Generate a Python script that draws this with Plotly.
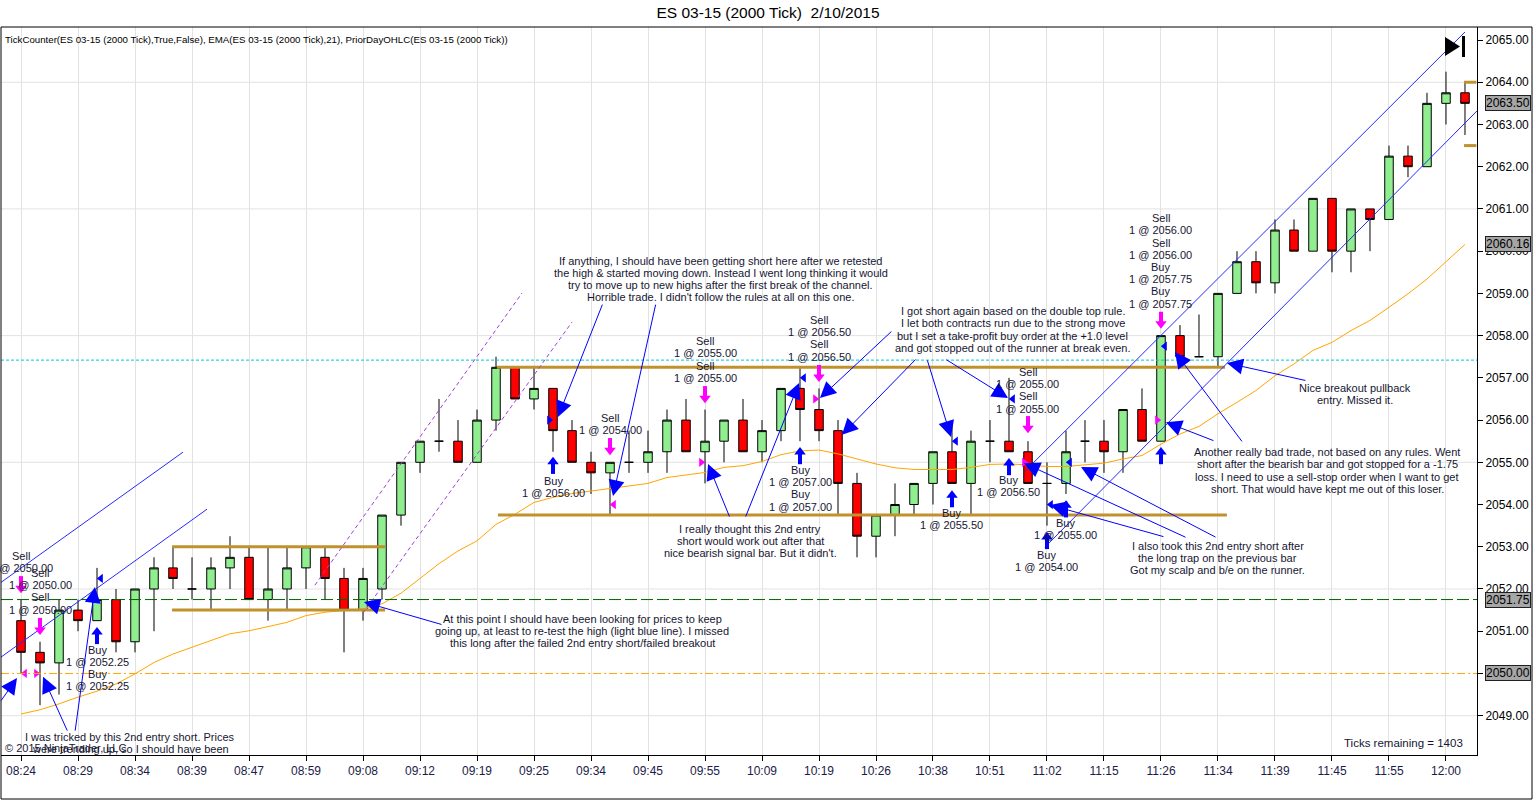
import plotly.graph_objects as go

FONT = "Liberation Sans"
TXT = "#161632"

# ---------------- data ----------------
bar_index = list(range(77))
time_label_bars = [0, 3, 6, 9, 12, 15, 18, 21, 24, 27, 30, 33, 36, 39, 42, 45, 48, 51, 54, 57, 60, 63, 66, 69, 72, 75]
time_labels = ["08:24", "08:29", "08:34", "08:39", "08:47", "08:59", "09:08", "09:12", "09:19", "09:25",
               "09:34", "09:45", "09:55", "10:09", "10:19", "10:26", "10:38", "10:51", "11:02", "11:15",
               "11:26", "11:34", "11:39", "11:45", "11:55", "12:00"]

opens = [2051.25, 2050.5, 2050.25, 2051.5, 2051.25, 2051.75, 2050.75, 2052.0, 2052.5, 2052.0,
         2052.0, 2052.5, 2052.75, 2051.75, 2052.0, 2052.5, 2052.75, 2052.25, 2051.5, 2052.0,
         2053.75, 2055.0, 2055.5, 2055.5, 2055.0, 2056.0, 2057.25, 2056.5, 2056.75, 2055.75,
         2055.0, 2054.75, 2055.0, 2055.0, 2055.25, 2056.0, 2055.25, 2055.5, 2056.0, 2055.25,
         2055.75, 2056.75, 2056.25, 2055.75, 2054.5, 2053.25, 2053.75, 2054.0, 2054.5, 2055.25,
         2054.5, 2055.5, 2055.5, 2055.25, 2054.5, 2054.5, 2055.5, 2055.5, 2055.25, 2056.25,
         2055.5, 2058.0, 2057.5, 2057.5, 2059.0, 2059.75, 2059.25, 2060.5, 2060.0, 2061.25,
         2060.0, 2061.0, 2060.75, 2062.25, 2062.0, 2063.5, 2063.75]
highs = [2051.75, 2050.75, 2051.75, 2051.75, 2052.5, 2052.0, 2052.0, 2052.75, 2053.0, 2052.75,
         2052.75, 2053.25, 2053.0, 2053.0, 2053.0, 2053.0, 2053.0, 2052.5, 2052.5, 2053.75,
         2055.0, 2055.5, 2056.5, 2056.0, 2056.25, 2057.5, 2057.25, 2057.25, 2056.75, 2056.0,
         2055.25, 2055.0, 2055.75, 2055.75, 2056.25, 2056.5, 2056.25, 2056.0, 2056.5, 2056.0,
         2056.75, 2057.25, 2056.75, 2056.0, 2054.75, 2053.75, 2054.5, 2054.5, 2055.25, 2056.0,
         2055.75, 2056.0, 2057.0, 2055.5, 2055.0, 2055.75, 2056.0, 2056.0, 2056.25, 2056.75,
         2058.0, 2058.25, 2058.5, 2059.0, 2060.0, 2060.0, 2060.75, 2060.75, 2061.25, 2061.25,
         2061.0, 2061.0, 2062.5, 2062.5, 2063.75, 2064.25, 2064.0]
lows = [2050.0, 2049.25, 2049.5, 2051.0, 2051.25, 2050.5, 2050.5, 2051.0, 2052.0, 2051.75,
        2051.5, 2052.0, 2051.75, 2051.25, 2051.5, 2052.0, 2051.75, 2050.5, 2051.25, 2051.75,
        2053.5, 2054.75, 2055.25, 2055.0, 2055.0, 2055.75, 2056.5, 2056.25, 2055.25, 2055.0,
        2054.25, 2053.75, 2054.75, 2054.75, 2054.75, 2055.25, 2054.5, 2055.0, 2055.25, 2055.0,
        2055.5, 2055.5, 2055.5, 2053.75, 2052.75, 2052.75, 2053.25, 2053.75, 2054.0, 2054.5,
        2053.75, 2055.0, 2055.25, 2054.5, 2053.5, 2054.25, 2055.0, 2054.75, 2054.75, 2055.5,
        2055.5, 2057.25, 2057.5, 2057.25, 2059.0, 2059.0, 2059.0, 2060.0, 2060.0, 2059.5,
        2059.5, 2060.0, 2060.75, 2061.75, 2062.0, 2063.0, 2062.75]
closes = [2050.5, 2050.25, 2051.5, 2051.25, 2051.75, 2050.75, 2052.0, 2052.5, 2052.25, 2052.0,
          2052.5, 2052.75, 2051.75, 2052.0, 2052.5, 2053.0, 2052.25, 2051.5, 2052.25, 2053.75,
          2055.0, 2055.5, 2055.5, 2055.0, 2056.0, 2057.25, 2056.5, 2056.75, 2055.75, 2055.0,
          2054.75, 2055.0, 2055.0, 2055.25, 2056.0, 2055.25, 2055.5, 2056.0, 2055.25, 2055.75,
          2056.75, 2056.25, 2055.75, 2054.5, 2053.25, 2053.75, 2054.0, 2054.5, 2055.25, 2054.5,
          2055.5, 2055.5, 2055.25, 2054.5, 2054.5, 2055.25, 2055.5, 2055.25, 2056.25, 2055.5,
          2058.0, 2057.5, 2057.5, 2059.0, 2059.75, 2059.25, 2060.5, 2060.0, 2061.25, 2060.0,
          2061.0, 2060.75, 2062.25, 2062.0, 2063.5, 2063.75, 2063.5]
ema21 = [2049.04, 2049.14, 2049.28, 2049.44, 2049.58, 2049.75, 2049.99, 2050.26, 2050.46, 2050.62,
         2050.78, 2050.94, 2051.01, 2051.11, 2051.21, 2051.37, 2051.45, 2051.49, 2051.53, 2051.65,
         2051.9, 2052.25, 2052.6, 2052.9, 2053.14, 2053.53, 2053.77, 2054.05, 2054.17, 2054.26,
         2054.32, 2054.39, 2054.44, 2054.5, 2054.64, 2054.7, 2054.76, 2054.88, 2054.92, 2055.02,
         2055.18, 2055.27, 2055.29, 2055.2, 2055.08, 2054.96, 2054.87, 2054.83, 2054.83, 2054.83,
         2054.88, 2054.95, 2054.96, 2054.94, 2054.9, 2054.9, 2054.94, 2054.98, 2055.08, 2055.16,
         2055.43, 2055.67, 2055.85, 2056.15, 2056.42, 2056.7, 2057.05, 2057.33, 2057.65, 2057.84,
         2058.12, 2058.36, 2058.67, 2058.99, 2059.34, 2059.74, 2060.16]

price_ticks = [2049, 2050, 2051, 2052, 2053, 2054, 2055, 2056, 2057, 2058, 2059, 2060, 2061, 2062, 2063, 2064, 2065]
grid_levels = [2049, 2052, 2055, 2058, 2061, 2064]

# full-width horizontal levels
level_cyan = 2057.42
level_green = 2051.75
level_orange = 2050.00
prior_day_levels = [2064.0, 2062.5]
prior_day_span = [75.95, 76.6]

# drawn gold range lines: (bar start, bar end, price)
gold_x0 = [7.95, 7.95, 25.05, 25.1]
gold_x1 = [19.16, 19.16, 63.37, 63.47]
gold_p = [2053.0, 2051.5, 2057.25, 2053.75]

# channel lines: (bar0, price0, bar1, price1)
blue_channels = [(-1.105, 2052.14, 8.526, 2055.24), (-1.105, 2050.37, 9.789, 2053.89),
                 (52.84, 2054.79, 76.0, 2065.19), (53.89, 2052.99, 76.63, 2063.32)]
purple_channels = [(15.47, 2052.09, 26.37, 2059.01), (18.0, 2051.43, 29.0, 2058.32)]

# execution block arrows
sell_arrow_bars = [0, 1, 31, 36, 42, 53, 60]
sell_arrow_tips = [2051.9, 2050.91, 2055.17, 2056.4, 2056.9, 2055.69, 2058.16]
buy_arrow_bars = [4, 28, 41, 49, 52, 54, 55, 60]
buy_arrow_tips = [2051.1, 2055.13, 2055.36, 2054.34, 2055.1, 2053.35, 2054.1, 2055.36]

# execution triangles
exec_bars = [0, 1, 31, 36, 42, 53, 60, 4, 28, 41, 49, 52, 54, 55, 60]
exec_prices = [2050.0, 2050.0, 2054.0, 2055.0, 2056.5, 2055.0, 2056.0,
               2052.25, 2056.0, 2057.0, 2055.5, 2056.5, 2054.0, 2055.0, 2057.75]
exec_side = ["R", "L", "R", "L", "L", "L", "L", "R", "L", "R", "R", "R", "R", "R", "R"]
exec_kind = ["sell"] * 7 + ["buy"] * 8

# trade labels
trade_label_bars = [0, 1, 4, 28, 31, 36, 41, 42, 49, 52, 53, 54, 55, 60]
trade_label_prices = [2052.78, 2052.38, 2050.56, 2054.56, 2056.05, 2057.87, 2054.82, 2058.37,
                      2053.8, 2054.58, 2057.14, 2052.8, 2053.56, 2060.78]
trade_label_texts = [
    ["Sell", "1 @ 2050.00"],
    ["Sell", "1 @ 2050.00", "Sell", "1 @ 2050.00"],
    ["Buy", "1 @ 2052.25", "Buy", "1 @ 2052.25"],
    ["Buy", "1 @ 2056.00"],
    ["Sell", "1 @ 2054.00"],
    ["Sell", "1 @ 2055.00", "Sell", "1 @ 2055.00"],
    ["Buy", "1 @ 2057.00", "Buy", "1 @ 2057.00"],
    ["Sell", "1 @ 2056.50", "Sell", "1 @ 2056.50"],
    ["Buy", "1 @ 2055.50"],
    ["Buy", "1 @ 2056.50"],
    ["Sell", "1 @ 2055.00", "Sell", "1 @ 2055.00"],
    ["Buy", "1 @ 2054.00"],
    ["Buy", "1 @ 2055.00"],
    ["Sell", "1 @ 2056.00", "Sell", "1 @ 2056.00", "Buy", "1 @ 2057.75", "Buy", "1 @ 2057.75"],
]

# comment blocks: (bar center, first line price, lines)
comment_bars = [5.74, 29.53, 36.84, 38.37, 52.21, 63.0, 70.2, 68.74]
comment_prices = [2048.495, 2051.29, 2059.77, 2053.42, 2058.58, 2053.02, 2056.76, 2055.24]
comment_texts = [
    ["I was tricked by this 2nd entry short. Prices", "were trending up, so I should have been"],
    ["At this point I should have been looking for prices to keep",
     "going up, at least to re-test the high (light blue line). I missed",
     "this long after the failed 2nd entry short/failed breakout"],
    ["If anything, I should have been getting short here after we retested",
     "the high &amp; started moving down. Instead I went long thinking it would",
     "try to move up to new highs after the first break of the channel.",
     "Horrible trade. I didn't follow the rules at all on this one."],
    ["I really thought this 2nd entry", "short would work out after that",
     "nice bearish signal bar. But it didn't."],
    ["I got short again based on the double top rule.",
     "I let both contracts run due to the strong move",
     "but I set a take-profit buy order at the +1.0 level",
     "and got stopped out of the runner at break even."],
    ["I also took this 2nd entry short after", "the long trap on the previous bar",
     "Got my scalp and b/e on the runner."],
    ["Nice breakout pullback", "entry. Missed it."],
    ["Another really bad trade, not based on any rules. Went",
     "short after the bearish bar and got stopped for a -1.75",
     "loss. I need to use a sell-stop order when I want to get",
     "short. That would have kept me out of this loser."],
]

# comment arrows: (tail bar, tail price, tip bar, tip price)
comment_arrows = [
    (2.47, 2048.61, 1.16, 2049.92), (2.84, 2048.61, 3.89, 2052.05), (-1.105, 2049.32, -0.21, 2049.89),
    (22.21, 2051.15, 18.05, 2051.69),
    (30.63, 2058.77, 28.26, 2056.07), (33.42, 2058.77, 31.16, 2054.2),
    (37.32, 2053.68, 36.16, 2054.96), (38.11, 2053.68, 40.95, 2056.88),
    (45.89, 2058.13, 42.05, 2056.52), (47.16, 2057.47, 43.21, 2055.65),
    (47.68, 2057.45, 48.95, 2055.6), (48.63, 2057.45, 51.95, 2056.52),
    (60.21, 2053.23, 54.16, 2053.99), (61.37, 2053.21, 52.79, 2054.98), (62.95, 2053.21, 55.79, 2054.89),
    (67.68, 2056.93, 63.47, 2057.35),
    (62.84, 2055.5, 60.26, 2055.95), (64.32, 2055.46, 60.74, 2057.61),
]

# right-axis price markers
price_marker_values = [2063.50, 2060.16, 2051.75, 2050.00]

# ---------------- layout geometry ----------------
W, H = 1536, 800
ML, MR, MT, MB = 1, 59, 27, 45
X_MIN, X_MAX = -1.0526, 76.632
Y_MIN, Y_MAX = 2048.069, 2065.308
PLOT_W = W - ML - MR
PLOT_H = H - MT - MB
K = PLOT_H / (Y_MAX - Y_MIN)          # px per price unit
PXB = PLOT_W / (X_MAX - X_MIN)        # px per bar

fig = go.Figure()

# horizontal grid
for lvl in grid_levels:
    fig.add_shape(type="line", xref="paper", x0=0, x1=1, yref="y", y0=lvl, y1=lvl,
                  line=dict(color="#e2e2e2", width=1), layer="below")

# full width level lines
fig.add_shape(type="line", xref="paper", x0=0, x1=1, yref="y", y0=level_cyan, y1=level_cyan,
              line=dict(color="#00c8d8", width=1, dash="3px,2px"))
fig.add_shape(type="line", xref="paper", x0=0, x1=1, yref="y", y0=level_green, y1=level_green,
              line=dict(color="#006400", width=1, dash="12px,4px"))
fig.add_shape(type="line", xref="paper", x0=0, x1=1, yref="y", y0=level_orange, y1=level_orange,
              line=dict(color="#FFA500", width=1, dash="8px,3px,2px,3px"))

# candles
fig.add_trace(go.Candlestick(
    x=bar_index, open=opens, high=highs, low=lows, close=closes,
    increasing=dict(fillcolor="#90EE90", line=dict(color="black", width=1)),
    decreasing=dict(fillcolor="#FF0000", line=dict(color="black", width=1)),
    whiskerwidth=0, hoverinfo="skip", showlegend=False))

# EMA
fig.add_trace(go.Scatter(x=bar_index, y=ema21, mode="lines", line=dict(color="#FFA500", width=1),
                         hoverinfo="skip", showlegend=False))

# gold range lines
for x0, x1, p in zip(gold_x0, gold_x1, gold_p):
    fig.add_trace(go.Scatter(x=[x0, x1], y=[p, p], mode="lines",
                             line=dict(color="#C0922E", width=3), hoverinfo="skip", showlegend=False))
for p in prior_day_levels:
    fig.add_trace(go.Scatter(x=prior_day_span, y=[p, p], mode="lines", cliponaxis=False,
                             line=dict(color="#C0922E", width=3), hoverinfo="skip", showlegend=False))

# channels
for b0, p0, b1, p1 in blue_channels:
    fig.add_trace(go.Scatter(x=[b0, b1], y=[p0, p1], mode="lines",
                             line=dict(color="#2828ff", width=1), hoverinfo="skip", showlegend=False))
for b0, p0, b1, p1 in purple_channels:
    fig.add_trace(go.Scatter(x=[b0, b1], y=[p0, p1], mode="lines",
                             line=dict(color="#a040d8", width=1, dash="4px,3px"), hoverinfo="skip", showlegend=False))

# block arrows
def block_arrows(bars, tips, down, color):
    s = 1 if down else -1
    head_y = [t + s * 5 / K for t in tips]
    stem_y = [t + s * 11.5 / K for t in tips]
    fig.add_trace(go.Scatter(x=bars, y=stem_y, mode="markers",
                             marker=dict(symbol="line-ns", size=8, line=dict(color=color, width=4)),
                             hoverinfo="skip", showlegend=False))
    fig.add_trace(go.Scatter(x=bars, y=head_y, mode="markers",
                             marker=dict(symbol="triangle-down" if down else "triangle-up", size=10,
                                         color=color, line=dict(width=0)),
                             hoverinfo="skip", showlegend=False))

block_arrows(sell_arrow_bars, sell_arrow_tips, True, "#FF00FF")
block_arrows(buy_arrow_bars, buy_arrow_tips, False, "#0000FF")

# execution triangles
for side, sym, off in (("L", "triangle-right", -0.2), ("R", "triangle-left", 0.2)):
    for kind, col in (("sell", "#FF00FF"), ("buy", "#0000FF")):
        xs = [b + off for b, s_, k_ in zip(exec_bars, exec_side, exec_kind) if s_ == side and k_ == kind]
        ys = [p for p, s_, k_ in zip(exec_prices, exec_side, exec_kind) if s_ == side and k_ == kind]
        if xs:
            fig.add_trace(go.Scatter(x=xs, y=ys, mode="markers",
                                     marker=dict(symbol=sym, size=8, color=col, line=dict(width=0)),
                                     hoverinfo="skip", showlegend=False))

# comment arrows
for tb, tp, hb, hp in comment_arrows:
    fig.add_annotation(x=hb, y=hp, ax=tb, ay=tp, xref="x", yref="y", axref="x", ayref="y",
                       text="", showarrow=True, arrowhead=2, arrowsize=3.2, arrowwidth=1,
                       arrowcolor="#0000FF", standoff=0)

# text helpers
def text_block(bar, price, lines, size=11, color=TXT, line_px=12.2):
    for i, line in enumerate(lines):
        fig.add_annotation(x=bar, y=price, xref="x", yref="y", text=line, showarrow=False,
                           xanchor="center", yanchor="middle", yshift=-i * line_px,
                           font=dict(family=FONT, size=size, color=color))

for b, p, lines in zip(trade_label_bars, trade_label_prices, trade_label_texts):
    text_block(b, p, lines)
for b, p, lines in zip(comment_bars, comment_prices, comment_texts):
    text_block(b, p, lines)

# right-axis price markers
fig.add_trace(go.Scatter(x=[X_MAX + 6 / PXB] * len(price_marker_values), y=price_marker_values,
                         mode="markers", cliponaxis=False,
                         marker=dict(symbol="triangle-left", size=10, color="#A6A6A6",
                                     line=dict(color="#202020", width=1)),
                         hoverinfo="skip", showlegend=False))
for v in price_marker_values:
    fig.add_annotation(x=1 + 8 / PLOT_W, y=v, xref="paper", yref="y", text=f"{v:.2f}",
                       showarrow=False, xanchor="left", yanchor="middle",
                       bgcolor="#A6A6A6", bordercolor="#202020", borderwidth=1, borderpad=0,
                       font=dict(family=FONT, size=12, color="black"))

# info texts
fig.add_annotation(x=2 / PLOT_W, y=1 - 12 / PLOT_H, xref="paper", yref="paper",
                   text="TickCounter(ES 03-15 (2000 Tick),True,False), EMA(ES 03-15 (2000 Tick),21), PriorDayOHLC(ES 03-15 (2000 Tick))",
                   showarrow=False, xanchor="left", yanchor="middle",
                   font=dict(family=FONT, size=9.7, color="black"))
fig.add_annotation(x=2 / PLOT_W, y=7 / PLOT_H, xref="paper", yref="paper",
                   text="© 2015 NinjaTrader, LLC", showarrow=False, xanchor="left", yanchor="middle",
                   font=dict(family=FONT, size=11, color=TXT))
fig.add_annotation(x=1 - 12 / PLOT_W, y=12 / PLOT_H, xref="paper", yref="paper",
                   text="Ticks remaining = 1403", showarrow=False, xanchor="right", yanchor="middle",
                   font=dict(family=FONT, size=11.5, color=TXT))

# outer frame
fig.add_shape(type="rect", xref="paper", yref="paper", x0=0, x1=(1532 - ML) / PLOT_W,
              y0=-(H - 1 - (H - MB)) / PLOT_H, y1=1, line=dict(color="black", width=1))

# end-of-chart marker
fig.add_shape(type="path", xref="paper", yref="paper",
              path=f"M {(1445 - ML) / PLOT_W},{(H - MB - 37) / PLOT_H} L {(1445 - ML) / PLOT_W},{(H - MB - 56) / PLOT_H} L {(1460 - ML) / PLOT_W},{(H - MB - 46.5) / PLOT_H} Z",
              fillcolor="black", line=dict(color="black", width=0))
fig.add_shape(type="rect", xref="paper", yref="paper",
              x0=(1462 - ML) / PLOT_W, x1=(1465 - ML) / PLOT_W,
              y0=(H - MB - 57) / PLOT_H, y1=(H - MB - 36) / PLOT_H,
              fillcolor="black", line=dict(color="black", width=0))

fig.update_layout(
    width=W, height=H, margin=dict(l=ML, r=MR, t=MT, b=MB),
    paper_bgcolor="white", plot_bgcolor="white", showlegend=False, boxgap=0.36,
    font=dict(family=FONT, size=12, color="black"),
    title=dict(text="ES 03-15 (2000 Tick)  2/10/2015", x=0.5, xref="container", xanchor="center",
               y=1 - 13 / H, yref="container", yanchor="middle",
               font=dict(family=FONT, size=15.5, color="black")),
    xaxis=dict(range=[X_MIN, X_MAX], tickmode="array", tickvals=time_label_bars, ticktext=time_labels,
               showgrid=True, gridcolor="#e2e2e2", gridwidth=1, ticks="outside", ticklen=5,
               tickcolor="black", showline=True, linecolor="black", linewidth=1, zeroline=False,
               rangeslider=dict(visible=False), tickfont=dict(family=FONT, size=12, color="#1c1c4a")),
    yaxis=dict(range=[Y_MIN, Y_MAX], side="right", tickmode="array", tickvals=price_ticks,
               ticktext=[f"{p:.2f}" for p in price_ticks], showgrid=False, ticks="outside",
               ticklen=5, tickcolor="black", showline=True, linecolor="black", linewidth=1,
               zeroline=False, tickfont=dict(family=FONT, size=12, color="black")),
)

fig.write_html("out.html", config={"displayModeBar": False},
               post_script="document.body.style.margin='0px';document.body.style.overflow='hidden';")
